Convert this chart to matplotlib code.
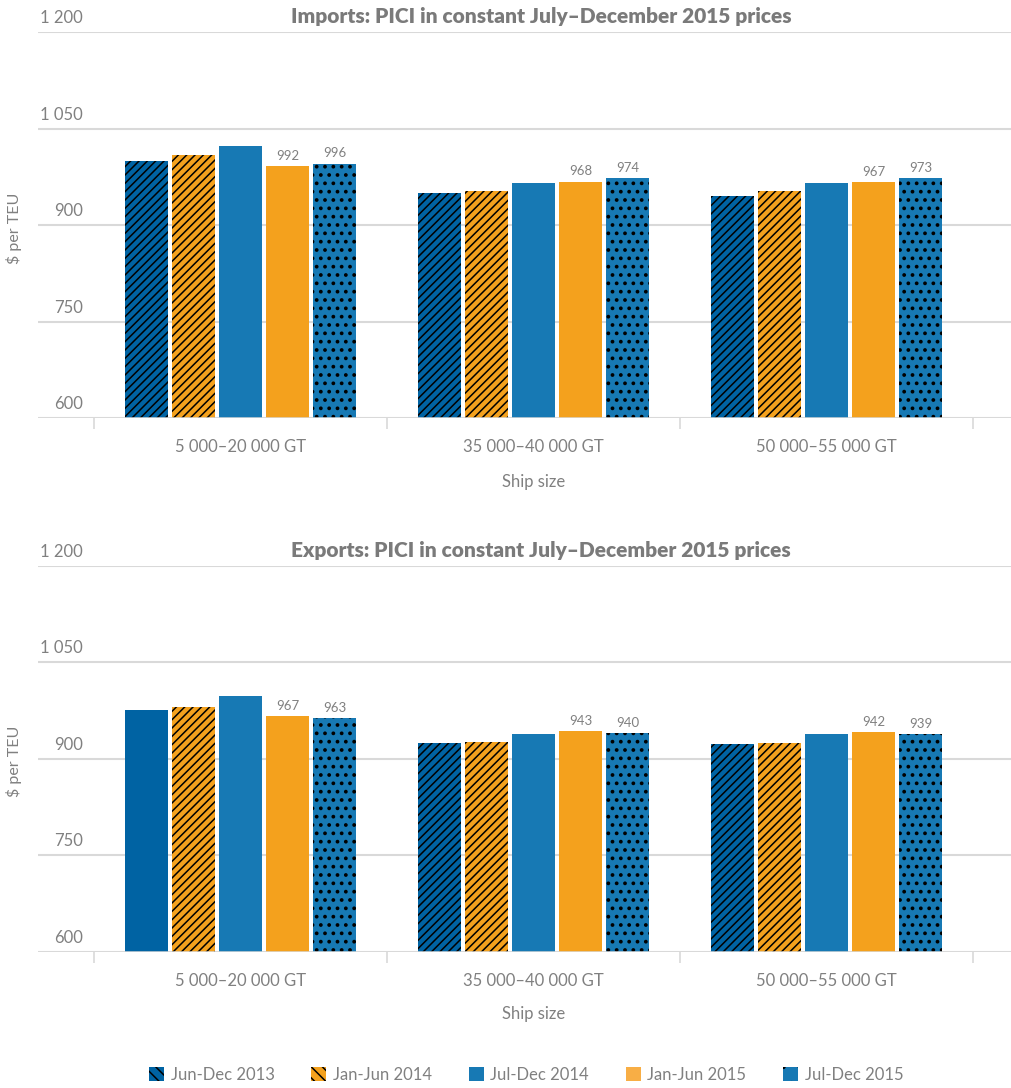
import matplotlib
matplotlib.use("Agg")
import matplotlib.pyplot as plt
from matplotlib.patches import Patch
from matplotlib.transforms import offset_copy
import numpy as np

# ---- data -------------------------------------------------------------
categories = ["5 000\u201320 000 GT", "35 000\u201340 000 GT", "50 000\u201355 000 GT"]
periods = ["Jun-Dec 2013", "Jan-Jun 2014", "Jul-Dec 2014", "Jan-Jun 2015", "Jul-Dec 2015"]

imports_jun_dec_2013 = [1000, 950, 946]
imports_jan_jun_2014 = [1009, 954, 953]
imports_jul_dec_2014 = [1023, 966, 966]
imports_jan_jun_2015 = [992, 968, 967]
imports_jul_dec_2015 = [996, 974, 973]

exports_jun_dec_2013 = [976, 925, 923]
exports_jan_jun_2014 = [981, 926, 925]
exports_jul_dec_2014 = [998, 939, 939]
exports_jan_jun_2015 = [967, 943, 942]
exports_jul_dec_2015 = [963, 940, 939]

y_ticks = [600, 750, 900, 1050, 1200]
y_tick_labels = ["600", "750", "900", "1 050", "1 200"]
labelled_series = [3, 4]  # value labels on the two 2015 periods

imports = [imports_jun_dec_2013, imports_jan_jun_2014, imports_jul_dec_2014,
           imports_jan_jun_2015, imports_jul_dec_2015]
exports = [exports_jun_dec_2013, exports_jan_jun_2014, exports_jul_dec_2014,
           exports_jan_jun_2015, exports_jul_dec_2015]

# ---- style ------------------------------------------------------------
DARK_BLUE = "#0063a3"
BLUE = "#1779b4"
ORANGE = "#f4a11d"
LIGHT_ORANGE = "#f8ae45"
GREY_TEXT = "#808080"
GRID = "#d9d9d9"

face_colors = [DARK_BLUE, ORANGE, BLUE, ORANGE, BLUE]
hatches = ["////", "////", None, None, ".."]
# the first exports bar in the smallest ship class is plain
exports_hatch_override = {(0, 0): None}

plt.rcParams["font.family"] = ["Lato", "DejaVu Sans"]
plt.rcParams["hatch.linewidth"] = 1.1
plt.rcParams["hatch.color"] = "black"

W, H = 1012, 1088
fig = plt.figure(figsize=(W / 100, H / 100), dpi=100)

step = 0.1604
bar_w = 0.1468
x = np.arange(len(categories))


def draw_panel(ax, series, title, hatch_override):
    for i, vals in enumerate(series):
        xs = x + (i - 2) * step
        for j, v in enumerate(vals):
            h = hatch_override.get((i, j), hatches[i])
            lw_ctx = {"hatch.linewidth": 1.5} if h == ".." else {}
            with plt.rc_context(lw_ctx):
                ax.bar(xs[j], v - 600, bottom=600, width=bar_w,
                       color=face_colors[i], edgecolor="black", linewidth=0,
                       hatch=h, zorder=3)
            if i in labelled_series:
                ax.annotate(f"{v}", (xs[j], v), xytext=(0, 3),
                            textcoords="offset points", ha="center", va="bottom",
                            fontsize=9.5, color=GREY_TEXT)
    ax.set_xlim(-0.691, 2.633)
    ax.set_ylim(600, 1200)
    ax.set_yticks(y_ticks)
    ax.set_yticklabels([])
    ax.tick_params(axis="y", length=0)
    ax.grid(axis="y", color=GRID, linewidth=1.5, zorder=0)
    for s in ax.spines.values():
        s.set_visible(False)
    ax.set_xticks(x)
    ax.set_xticklabels(categories, fontsize=12, color=GREY_TEXT)
    ax.set_xticks(np.arange(-0.5, 3.0, 1.0), minor=True)
    ax.tick_params(axis="x", which="major", length=0, pad=15)
    ax.tick_params(axis="x", which="minor", length=8, width=1.2, color=GRID)
    ax.axhline(600, color=GRID, linewidth=1.8, zorder=4)
    trans = offset_copy(ax.get_yaxis_transform(), fig=fig, x=0, y=6.5, units="points")
    for t, lab in zip(y_ticks, y_tick_labels):
        ax.text(0.0462, t, lab, transform=trans, ha="right", va="baseline",
                fontsize=12, color=GREY_TEXT)
    ax.text(0.5164, 1200, title, transform=trans, ha="center", va="baseline",
            fontsize=15, fontweight="heavy", color="#7a7a7a")


ax_top = fig.add_axes([38 / W, 1 - 418.3 / H, 974 / W, 386 / H])
draw_panel(ax_top, imports, "Imports: PICI in constant July\u2013December 2015 prices", {})
ax_bot = fig.add_axes([38 / W, 1 - 951.7 / H, 974 / W, 385.7 / H])
draw_panel(ax_bot, exports, "Exports: PICI in constant July\u2013December 2015 prices",
           exports_hatch_override)

for yc in (228, 761):
    fig.text(14 / W, 1 - yc / H, "$ per TEU", rotation=90, ha="center", va="center",
             fontsize=11.5, color=GREY_TEXT)
for yc in (482, 1014):
    fig.text(533.5 / W, 1 - yc / H, "Ship size", ha="center", va="center",
             fontsize=12, color=GREY_TEXT)

legend_colors = [DARK_BLUE, ORANGE, BLUE, LIGHT_ORANGE, BLUE]
legend_hatches = ["\\\\\\", "\\\\\\", None, None, "."]
handles = [Patch(facecolor=c, edgecolor="black", linewidth=0, hatch=h, label=p)
           for c, h, p in zip(legend_colors, legend_hatches, periods)]
fig.legend(handles=handles, loc="center", bbox_to_anchor=(0.52, 1 - 1075 / H),
           ncol=5, frameon=False, fontsize=12, labelcolor=GREY_TEXT,
           handlelength=0.9, handleheight=0.9, handletextpad=0.4,
           columnspacing=2.2)

fig.savefig("out.png", dpi=100)
